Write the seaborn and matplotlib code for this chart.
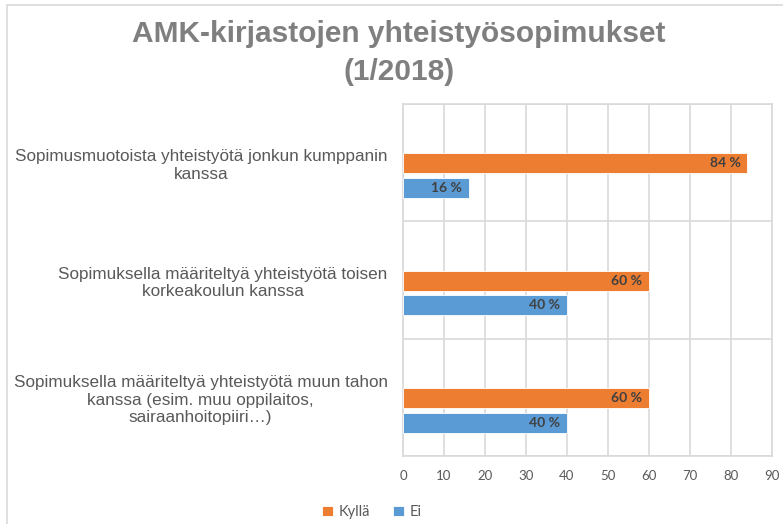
import pandas as pd
import matplotlib
matplotlib.use("Agg")
import matplotlib.pyplot as plt
import seaborn as sns
from matplotlib.patches import Rectangle

# Datos del gráfico
kategoriat = [
    "Sopimusmuotoista yhteistyötä jonkun kumppanin\nkanssa",
    "Sopimuksella määriteltyä yhteistyötä toisen\nkorkeakoulun kanssa",
    "Sopimuksella määriteltyä yhteistyötä muun tahon\nkanssa (esim. muu oppilaitos,\nsairaanhoitopiiri…)",
]
sarjat = ["Kyllä", "Ei"]
kylla = [84, 60, 60]
ei = [16, 40, 40]
xticks = [0, 10, 20, 30, 40, 50, 60, 70, 80, 90]

df = pd.DataFrame({
    "kategoria": kategoriat * 2,
    "sarja": [sarjat[0]] * 3 + [sarjat[1]] * 3,
    "arvo": kylla + ei,
})

oranssi = "#ED7D31"
sininen = "#5B9BD5"
grid_c = "#d9d9d9"
teksti_c = "#595959"

sns.set_style("white")
plt.rcParams["font.family"] = ["Liberation Sans", "DejaVu Sans"]

fig = plt.figure(figsize=(7.83, 5.24), dpi=100)
ax = fig.add_axes([403 / 783, 1 - 456 / 524, (772 - 403) / 783, (456 - 104) / 524])

sns.barplot(data=df, y="kategoria", x="arvo", hue="sarja", orient="h",
            palette=[oranssi, sininen], saturation=1, width=0.42, gap=0.19,
            edgecolor="white", linewidth=0.6, ax=ax, zorder=3)

# Excel-tyyliin palkit hieman alaspäin kategorian keskeltä
for cont in ax.containers:
    for p in cont:
        p.set_y(p.get_y() + 0.11)

for cont in ax.containers:
    for p in cont:
        ax.annotate(f"{int(round(p.get_width()))} %",
                    xy=(p.get_width(), p.get_y() + p.get_height() / 2),
                    xytext=(-5, 0), textcoords="offset points",
                    ha="right", va="center", fontsize=10, fontweight="bold",
                    color="#404040", family=["Lato", "DejaVu Sans"], zorder=4)

handles, labels = ax.get_legend_handles_labels()
if ax.get_legend() is not None:
    ax.get_legend().remove()

ax.set_xlim(0, 90)
ax.set_ylim(2.5, -0.5)
ax.set_xticks(xticks)
ax.set_xticklabels([str(t) for t in xticks], fontsize=9.5, color=teksti_c,
                   family=["Lato", "DejaVu Sans"])
ax.tick_params(axis="x", length=0, pad=10)
ax.set_yticks([-0.5, 0.5, 1.5, 2.5], minor=True)
ax.tick_params(axis="y", which="major", length=0, pad=11, labelsize=12.3,
               labelcolor=teksti_c)
ax.tick_params(axis="y", which="minor", length=5, color=grid_c, width=1.2)
for lab in ax.get_yticklabels():
    lab.set_multialignment("center")
ax.set_xlabel("")
ax.set_ylabel("")
ax.grid(axis="x", color=grid_c, linewidth=1.2, zorder=0)
ax.grid(axis="y", which="minor", color=grid_c, linewidth=1.2, zorder=0)
ax.grid(axis="y", which="major", visible=False)
for s in ax.spines.values():
    s.set_color(grid_c)
    s.set_linewidth(1.2)

fig.text(399 / 783, 1 - 53 / 524, "AMK-kirjastojen yhteistyösopimukset\n(1/2018)",
         ha="center", va="center", fontsize=21.5, fontweight="bold",
         color="#7f7f7f", linespacing=1.45)

leg = fig.legend(handles, labels, loc="center", bbox_to_anchor=(372 / 783, 1 - 512 / 524),
                 ncol=2, frameon=False, handlelength=0.7, handleheight=0.7,
                 handletextpad=0.4, columnspacing=1.6,
                 prop={"family": ["Lato", "DejaVu Sans"], "size": 10.5})
for t in leg.get_texts():
    t.set_color(teksti_c)

# Kaavion kehys
fig.add_artist(Rectangle((7 / 783, -0.1), 1.2, 1 - 5 / 524 + 0.1,
                         transform=fig.transFigure, fill=False,
                         edgecolor=grid_c, linewidth=1.2))

fig.savefig("out.png", dpi=100)
